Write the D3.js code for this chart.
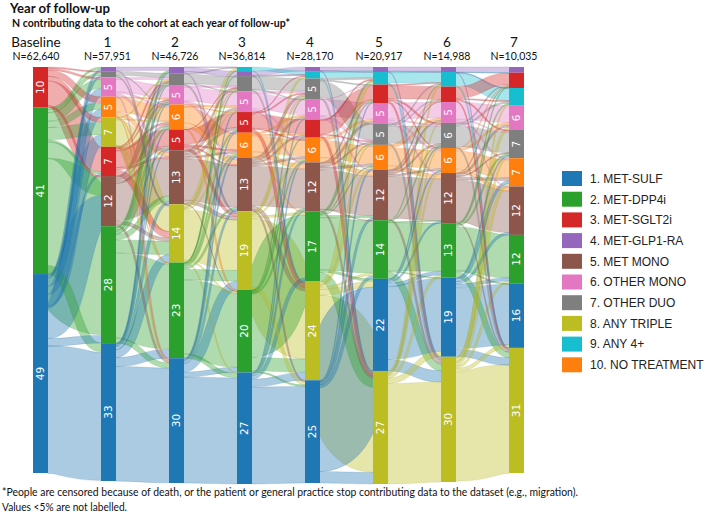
<!DOCTYPE html>
<html><head><meta charset="utf-8">
<script src="https://cdn.jsdelivr.net/npm/d3@7"></script>
<style>body{margin:0;background:#fff} svg{display:block}</style>
</head><body>
<svg id="chart" width="709" height="518"></svg>
<script>
// ---------- DATA ----------
const categories = ["1. MET-SULF","2. MET-DPP4i","3. MET-SGLT2i","4. MET-GLP1-RA","5. MET MONO",
  "6. OTHER MONO","7. OTHER DUO","8. ANY TRIPLE","9. ANY 4+","10. NO TREATMENT"];
const categoryColors = ["#1f77b4","#2ca02c","#d62728","#9467bd","#8c564b",
  "#e377c2","#7f7f7f","#bcbd22","#17becf","#ff7f0e"];
const yearLabels = ["Baseline","1","2","3","4","5","6","7"];
const cohortN = ["N=62,640","N=57,951","N=46,726","N=36,814","N=28,170","N=20,917","N=14,988","N=10,035"];

// nodes per year, top to bottom: [category, percent]
const nodesBaseline = [[3,10],[2,41],[1,49]];
const nodesY1 = [[4,1.0],[7,1.5],[6,4.6],[10,5],[8,7],[3,7],[5,12],[2,28],[1,33]];
const nodesY2 = [[4,1.5],[7,3],[6,4.5],[10,6],[3,5],[5,13],[8,14],[2,23],[1,30]];
const nodesY3 = [[9,1],[4,1.2],[7,3.7],[6,5],[3,5],[10,6],[5,13],[8,19],[2,20],[1,27]];
const nodesY4 = [[4,1],[9,1.8],[7,5],[6,5],[3,4.4],[10,6],[5,12],[2,17],[8,24],[1,25]];
const nodesY5 = [[4,1.2],[9,3],[3,4.4],[6,5],[7,5],[10,6],[5,12],[2,14],[1,22],[8,27]];
const nodesY6 = [[4,1.2],[9,3.5],[3,3.7],[6,5],[7,6],[10,6],[5,12],[2,13],[1,19],[8,30]];
const nodesY7 = [[4,1.4],[3,3.8],[9,4.4],[6,6],[7,7],[10,7],[5,12],[2,12],[1,16],[8,31]];

// flows between consecutive years: [from category, to category, relative size]
const flows01 = [[3,3,6],[3,10,1.5],[3,8,1.2],[3,6,0.5],[3,5,0.5],[3,7,0.3],
  [2,2,26],[2,8,3],[2,5,4],[2,10,1.5],[2,6,2],[2,7,0.7],[2,4,0.5],[2,3,0.5],[2,1,2],
  [1,1,31],[1,8,3],[1,5,7.5],[1,10,2],[1,6,2],[1,7,0.5],[1,4,0.5],[1,3,0.5],[1,2,2]];
const flows12 = [[4,4,0.8],[4,8,0.2],[7,7,1],[7,8,0.3],[7,10,0.2],
  [6,6,3],[6,7,0.5],[6,5,0.5],[6,10,0.4],[6,1,0.2],
  [10,10,3.5],[10,5,1],[10,6,0.3],[10,1,0.1],[10,2,0.2],
  [8,8,6],[8,10,0.3],[8,7,0.3],[8,2,0.2],[8,1,0.2],
  [3,3,4],[3,8,1.5],[3,10,0.5],[3,5,0.5],[3,7,0.3],[3,6,0.2],
  [5,5,9],[5,8,0.8],[5,10,0.5],[5,6,0.5],[5,7,0.3],[5,3,0.5],[5,1,0.4],
  [2,2,20],[2,8,3],[2,7,0.5],[2,10,0.5],[2,3,0.3],[2,5,1.2],[2,4,0.3],[2,1,1],[2,6,0.3],
  [1,1,27],[1,8,2.2],[1,2,2.6],[1,5,0.8],[1,10,0.3],[1,7,0.1],[1,4,0.2],[1,3,0.2],[1,6,0.2]];
const flows23 = [[4,4,1],[4,8,0.2],[4,9,0.1],[4,7,0.2],
  [7,7,2.2],[7,8,0.3],[7,9,0.2],[7,6,0.2],
  [6,6,3.2],[6,7,0.4],[6,5,0.5],[6,10,0.3],
  [10,10,3.8],[10,5,1.2],[10,6,0.5],[10,3,0.2],[10,2,0.3],
  [3,3,3.5],[3,8,0.7],[3,10,0.4],[3,5,0.3],[3,7,0.1],
  [5,5,10],[5,8,0.8],[5,10,0.5],[5,6,0.6],[5,7,0.4],[5,3,0.6],[5,2,0.1],
  [8,8,12],[8,9,0.6],[8,10,0.3],[8,7,0.3],[8,6,0.2],[8,2,0.3],[8,1,0.2],
  [2,2,18],[2,8,3],[2,3,0.4],[2,5,0.6],[2,10,0.5],[2,7,0.2],[2,9,0.1],[2,4,0.2],[2,1,1],
  [1,1,25],[1,8,2.5],[1,2,1.3],[1,5,0.6],[1,10,0.4],[1,6,0.3],[1,3,0.3]];
const flows34 = [[9,9,0.8],[9,8,0.2],[4,4,0.8],[4,8,0.2],[4,9,0.2],
  [7,7,3],[7,8,0.3],[7,9,0.2],[7,6,0.2],
  [6,6,3.5],[6,7,0.5],[6,10,0.4],[6,5,0.4],
  [3,3,3.2],[3,8,0.8],[3,7,0.3],[3,10,0.3],[3,9,0.2],
  [10,10,4],[10,5,1.1],[10,6,0.4],[10,3,0.3],[10,2,0.2],
  [5,5,9.5],[5,8,1],[5,10,0.6],[5,6,0.5],[5,7,0.6],[5,3,0.4],[5,1,0.3],
  [8,8,15],[8,9,0.4],[8,7,0.3],[8,10,0.3],[8,2,0.5],[8,1,0.5],
  [2,2,15],[2,8,3.5],[2,1,0.3],[2,5,0.4],[2,10,0.3],[2,7,0.2],[2,3,0.2],
  [1,1,23],[1,8,2.5],[1,2,1],[1,5,0.5],[1,10,0.3],[1,6,0.2]];
const flows45 = [[4,4,0.9],[4,8,0.2],[4,9,0.1],[9,9,1.5],[9,8,0.2],[9,4,0.1],
  [7,7,3.5],[7,8,0.4],[7,9,0.3],[7,3,0.3],
  [6,6,3.6],[6,7,0.3],[6,10,0.4],[6,5,0.3],[6,3,0.2],
  [3,3,3.5],[3,8,0.5],[3,9,0.2],[3,7,0.2],
  [10,10,4.2],[10,5,1],[10,6,0.5],[10,3,0.2],
  [5,5,9.5],[5,8,0.6],[5,10,0.7],[5,6,0.6],[5,7,0.5],[5,3,0.5],[5,2,0.2],
  [2,2,12],[2,8,2.5],[2,3,0.3],[2,9,0.3],[2,1,0.5],[2,5,0.4],[2,7,0.2],[2,10,0.2],
  [8,8,20],[8,9,0.6],[8,1,1],[8,2,0.5],[8,10,0.3],[8,7,0.2],
  [1,1,19],[1,8,3.5],[1,2,0.8],[1,5,0.5],[1,10,0.3],[1,3,0.3]];
const flows56 = [[4,4,0.9],[4,8,0.2],[4,9,0.1],[9,9,2.5],[9,8,0.3],[9,4,0.1],
  [3,3,2.8],[3,8,0.4],[3,9,0.3],[3,7,0.4],[3,10,0.2],
  [6,6,3.7],[6,7,0.4],[6,10,0.4],[6,5,0.3],
  [7,7,4],[7,8,0.4],[7,9,0.3],[7,3,0.2],
  [10,10,4.2],[10,5,0.8],[10,6,0.5],[10,3,0.2],
  [5,5,10],[5,8,0.6],[5,10,0.6],[5,6,0.5],[5,7,0.5],[5,3,0.3],
  [2,2,11],[2,8,2.2],[2,9,0.2],[2,7,0.3],[2,1,0.3],[2,5,0.2],
  [1,1,17],[1,8,3.5],[1,2,0.8],[1,5,0.4],[1,10,0.3],[1,7,0.3],
  [8,8,24],[8,9,0.4],[8,1,1],[8,2,0.4],[8,10,0.3],[8,7,0.2],[8,6,0.2]];
const flows67 = [[4,4,1],[4,8,0.1],[4,9,0.1],[9,9,3],[9,8,0.3],[9,3,0.1],
  [3,3,2.6],[3,8,0.3],[3,9,0.3],[3,7,0.3],
  [6,6,4],[6,7,0.4],[6,10,0.4],[6,5,0.2],
  [7,7,4.8],[7,8,0.4],[7,9,0.5],[7,3,0.3],
  [10,10,4.8],[10,5,0.8],[10,6,0.6],[10,3,0.3],
  [5,5,10],[5,8,0.6],[5,10,0.8],[5,6,0.6],[5,7,0.5],[5,3,0.3],
  [2,2,10.5],[2,8,1.8],[2,9,0.3],[2,7,0.4],[2,1,0.3],[2,3,0.2],
  [1,1,15],[1,8,2.5],[1,2,0.8],[1,5,0.3],[1,10,0.4],[1,7,0.3],
  [8,8,26],[8,9,0.3],[8,1,0.6],[8,2,0.4],[8,10,0.3],[8,7,0.3],[8,6,0.3]];

// ---------- LAYOUT ----------
const columns = [nodesBaseline,nodesY1,nodesY2,nodesY3,nodesY4,nodesY5,nodesY6,nodesY7];
const transitions = [flows01,flows12,flows23,flows34,flows45,flows56,flows67];
const yTop = 67;
const colBottom = [473,481,483,484,483,484,482,473];
const nodeW = 15;
const headerShift = [-4.5,-1,-1.5,-2.5,-2.5,-1.5,-1.5,-2.5];

const svg = d3.select("#chart");
const color = d3.scaleOrdinal().domain(d3.range(1,11)).range(categoryColors);
const x = d3.scalePoint().domain(yearLabels).range([33,509]);

const layout = columns.map((col,i)=>{
  const total = d3.sum(col,d=>d[1]);
  const y = d3.scaleLinear().domain([0,total]).range([yTop,colBottom[i]]);
  let acc = 0;
  return col.map(([cat,v],j)=>{
    const n = {cat,v,col:i,pos:j,frac:v/total,x0:x(yearLabels[i]),y0:y(acc),y1:y(acc+v),H:colBottom[i]-yTop,outs:[],ins:[]};
    acc += v; return n;
  });
});
const byCat = layout.map(col=>{const m={}; col.forEach(n=>m[n.cat]=n); return m;});

const allLinks = [];
transitions.forEach((fl,t)=>{
  const links = fl.map(([s,k,w])=>({s:byCat[t][s],t:byCat[t+1][k],v:w,step:t})).filter(l=>l.s&&l.t);
  links.forEach(l=>{l.s.outs.push(l); l.t.ins.push(l);});
  // balance flows so both ends fit the labelled node sizes
  for(let it=0;it<400;it++){
    layout[t].forEach(n=>{const s=d3.sum(n.outs,l=>l.v); if(s>0) n.outs.forEach(l=>l.v*=n.frac/s);});
    layout[t+1].forEach(n=>{const s=d3.sum(n.ins,l=>l.v); if(s>0) n.ins.forEach(l=>l.v*=n.frac/s);});
  }
  links.forEach(l=>{l.ws=l.v*l.s.H; l.wt=l.v*l.t.H;});
  allLinks.push(...links);
});
layout.forEach(col=>col.forEach(n=>{
  let a=n.y0;
  n.outs.sort((p,q)=>p.t.y0-q.t.y0).forEach(l=>{l.sy=a+l.ws/2; a+=l.ws;});
  let b=n.y0;
  n.ins.sort((p,q)=>p.s.y0-q.s.y0).forEach(l=>{l.ty=b+l.wt/2; b+=l.wt;});
}));

// ---------- DRAW ----------
const defs = svg.append("defs");
transitions.forEach((fl,t)=>{
  const xa = x(yearLabels[t])+nodeW, xb = x(yearLabels[t+1]);
  defs.append("clipPath").attr("id","gap"+t).append("rect")
    .attr("x",xa).attr("y",yTop-2).attr("width",xb-xa).attr("height",colBottom[t]+10-yTop);
});
const linkGen = d3.linkHorizontal();
const gapGroups = transitions.map((fl,t)=>svg.append("g").attr("clip-path",`url(#gap${t})`));

function offsetCurves(l){
  const x0=l.s.x0+nodeW, y0=l.sy, x1=l.t.x0, y1=l.ty, xm=(x0+x1)/2, w=(l.ws+l.wt)/2;
  const P=[[x0,y0],[xm,y0],[xm,y1],[x1,y1]];
  const up=[],dn=[];
  for(let i=0;i<=40;i++){
    const t=i/40, u=1-t;
    const px=u*u*u*P[0][0]+3*u*u*t*P[1][0]+3*u*t*t*P[2][0]+t*t*t*P[3][0];
    const py=u*u*u*P[0][1]+3*u*u*t*P[1][1]+3*u*t*t*P[2][1]+t*t*t*P[3][1];
    const dx=3*u*u*(P[1][0]-P[0][0])+6*u*t*(P[2][0]-P[1][0])+3*t*t*(P[3][0]-P[2][0]);
    const dy=3*u*u*(P[1][1]-P[0][1])+6*u*t*(P[2][1]-P[1][1])+3*t*t*(P[3][1]-P[2][1]);
    const len=Math.hypot(dx,dy)||1, nx=-dy/len, ny=dx/len;
    up.push([px+nx*w/2,py+ny*w/2]); dn.push([px-nx*w/2,py-ny*w/2]);
  }
  return [up,dn];
}
const line = d3.line();
allLinks.slice().sort((a,b)=>b.v-a.v).forEach(l=>{
  const c = color(l.s.cat);
  const g = gapGroups[l.step];
  g.append("path")
    .attr("d",linkGen({source:[l.s.x0+nodeW,l.sy],target:[l.t.x0,l.ty]}))
    .attr("fill","none").attr("stroke",c).attr("stroke-opacity",0.38)
    .attr("stroke-width",Math.max(0.6,(l.ws+l.wt)/2));
  const dk = d3.color(c).darker(0.7);
  offsetCurves(l).forEach(pts=>{
    g.append("path").attr("d",line(pts)).attr("fill","none")
      .attr("stroke",dk).attr("stroke-opacity",0.3).attr("stroke-width",0.5);
  });
});

const gNodes = svg.append("g");
layout.flat().forEach(n=>{
  gNodes.append("rect").attr("x",n.x0).attr("y",n.y0).attr("width",nodeW)
    .attr("height",Math.max(0.5,n.y1-n.y0)).attr("fill",color(n.cat));
  if(Math.round(n.v)>=5){
    const cx=n.x0+nodeW/2, cy=(n.y0+n.y1)/2;
    gNodes.append("text").attr("transform",`translate(${cx+3.8},${cy}) rotate(-90)`)
      .attr("text-anchor","middle").attr("fill","#fff")
      .attr("font-family","DejaVu Sans").attr("font-size",10.5)
      .text(Math.round(n.v));
  }
});

// headers
yearLabels.forEach((yl,i)=>{
  const cx = x(yl)+nodeW/2+headerShift[i];
  svg.append("text").attr("x",cx).attr("y",46.5).attr("text-anchor","middle")
    .attr("font-family","Lato").attr("font-size",13.5).attr("fill","#111").text(yl);
  svg.append("text").attr("x",cx).attr("y",60).attr("text-anchor","middle")
    .attr("font-family","Lato").attr("font-size",10.5).attr("fill","#111").text(cohortN[i]);
});
svg.append("text").attr("x",10).attr("y",12.5).attr("font-family","Lato").attr("font-weight","bold")
  .attr("font-size",14).attr("fill","#111").attr("textLength",100).attr("lengthAdjust","spacingAndGlyphs")
  .text("Year of follow-up");
svg.append("text").attr("x",12).attr("y",27).attr("font-family","Lato").attr("font-weight","bold")
  .attr("font-size",11).attr("fill","#111").attr("textLength",278).attr("lengthAdjust","spacingAndGlyphs")
  .text("N contributing data to the cohort at each year of follow-up*");

// legend
const legend = svg.append("g");
categories.forEach((c,i)=>{
  const cy = 178.5 + i*20.7;
  legend.append("rect").attr("x",562).attr("y",cy-7.5).attr("width",20).attr("height",15)
    .attr("fill",categoryColors[i]);
  legend.append("text").attr("x",590).attr("y",cy+4.3).attr("font-family","Liberation Sans")
    .attr("font-size",12).attr("fill","#222").text(c);
});

// footnote
svg.append("text").attr("x",2).attr("y",496).attr("font-family","Lato").attr("font-size",11)
  .attr("fill","#111").attr("textLength",576).attr("lengthAdjust","spacingAndGlyphs")
  .text("*People are censored because of death, or the patient or general practice stop contributing data to the dataset (e.g., migration).");
svg.append("text").attr("x",2).attr("y",511).attr("font-family","Lato").attr("font-size",11)
  .attr("fill","#111").attr("textLength",125).attr("lengthAdjust","spacingAndGlyphs")
  .text("Values <5% are not labelled.");
</script>
</body></html>
